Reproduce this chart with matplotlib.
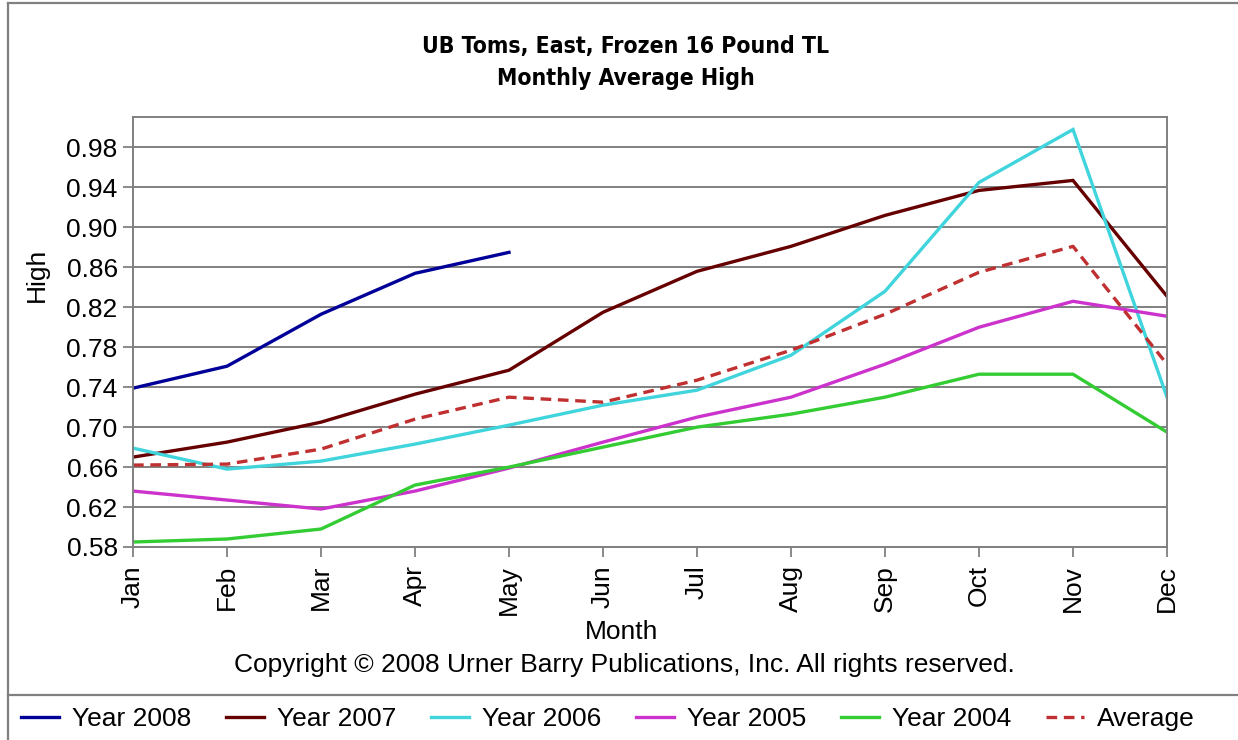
import numpy as np
import matplotlib
matplotlib.use("Agg")
import matplotlib.pyplot as plt
from matplotlib import font_manager
from matplotlib.lines import Line2D

plt.rcParams["font.family"] = ["Liberation Sans", "DejaVu Sans"]

MONTHS = ["Jan", "Feb", "Mar", "Apr", "May", "Jun",
          "Jul", "Aug", "Sep", "Oct", "Nov", "Dec"]
Y_TICKS = [0.58, 0.62, 0.66, 0.70, 0.74, 0.78, 0.82, 0.86, 0.90, 0.94, 0.98]

# monthly average high
year_2008 = [0.739, 0.761, 0.813, 0.854, 0.875]
year_2007 = [0.670, 0.685, 0.705, 0.733, 0.757, 0.815, 0.856, 0.881, 0.912, 0.937, 0.947, 0.831]
year_2006 = [0.679, 0.658, 0.666, 0.683, 0.702, 0.722, 0.737, 0.772, 0.836, 0.945, 0.998, 0.730]
year_2005 = [0.636, 0.627, 0.618, 0.636, 0.659, 0.685, 0.710, 0.730, 0.763, 0.800, 0.826, 0.811]
year_2004 = [0.585, 0.588, 0.598, 0.642, 0.660, 0.680, 0.700, 0.713, 0.730, 0.753, 0.753, 0.695]
average = [0.662, 0.663, 0.678, 0.708, 0.730, 0.725, 0.747, 0.777, 0.813, 0.855, 0.881, 0.763]

SERIES = [
    ("Year 2008", year_2008, "#000099", "-"),
    ("Year 2007", year_2007, "#660000", "-"),
    ("Year 2006", year_2006, "#40D4DC", "-"),
    ("Year 2005", year_2005, "#CC33CC", "-"),
    ("Year 2004", year_2004, "#33CC33", "-"),
    ("Average", average, "#C03030", "--"),
]

# the title is set in a narrow bold face; use one if there is one installed
fonts = font_manager.fontManager.ttflist
names = {f.name for f in fonts}
if "Liberation Sans Narrow" in names:
    title_kw = dict(family=["Liberation Sans Narrow", "DejaVu Sans"], fontsize=19)
elif any(f.name == "DejaVu Sans" and f.stretch == "condensed" for f in fonts):
    title_kw = dict(family=["DejaVu Sans"], stretch="condensed", fontsize=16.5)
else:
    title_kw = dict(fontsize=16)

W, H = 1238, 740
FS = 19
fig = plt.figure(figsize=(W / 100, H / 100), dpi=100)
GRAY = "#808080"

ax = fig.add_axes([133 / W, 1 - 547 / H, (1167 - 133) / W, (547 - 117) / H])
x = np.arange(len(MONTHS))
handles = []
for name, vals, color, ls in SERIES:
    kw = dict(dashes=(3.2, 2.0)) if ls == "--" else {}
    ln, = ax.plot(x[:len(vals)], vals, color=color, lw=2.4, ls=ls, label=name,
                  solid_joinstyle="miter", **kw)
    handles.append(ln)

ax.set_xlim(0, 11)
ax.set_ylim(0.58, 1.0105)
ax.set_yticks(Y_TICKS)
ax.set_yticklabels([f"{v:.2f}" for v in Y_TICKS])
ax.set_xticks(x)
ax.set_xticklabels(MONTHS, rotation=90, va="top", ha="center")
ax.tick_params(axis="both", length=7, width=1.3, color=GRAY, labelsize=FS, pad=4)
ax.tick_params(axis="x", pad=6)
ax.yaxis.grid(True, color=GRAY, lw=1.4)
ax.set_axisbelow(True)
for sp in ax.spines.values():
    sp.set_color(GRAY)
    sp.set_linewidth(1.4)

fig.text(626 / W, 1 - 46 / H, "UB Toms, East, Frozen 16 Pound TL", ha="center",
         va="center", fontweight="bold", **title_kw)
fig.text(626 / W, 1 - 79 / H, "Monthly Average High", ha="center",
         va="center", fontweight="bold", **title_kw)
fig.text(37 / W, 1 - 275 / H, "High", rotation=90, ha="center", va="center", fontsize=FS)
fig.text(622 / W, 1 - 632 / H, "Month", ha="center", va="center", fontsize=FS)
fig.text(624 / W, 1 - 665 / H,
         "Copyright \u00a9 2008 Urner Barry Publications, Inc. All rights reserved.",
         ha="center", va="center", fontsize=FS)

# chart frame and legend separator
fig.add_artist(Line2D([8 / W, 1], [1 - 3 / H, 1 - 3 / H], color=GRAY, lw=1.6))
fig.add_artist(Line2D([8 / W, 8 / W], [0, 1 - 3 / H], color=GRAY, lw=1.6))
fig.add_artist(Line2D([8 / W, 1], [1 - 695 / H, 1 - 695 / H], color=GRAY, lw=1.6))

fig.legend(handles=handles, loc="center", bbox_to_anchor=(608 / W, 1 - 719 / H),
           ncol=6, frameon=False, fontsize=FS, handlelength=1.45,
           handletextpad=0.5, columnspacing=1.3, borderaxespad=0)

fig.savefig("out.png", dpi=100)
